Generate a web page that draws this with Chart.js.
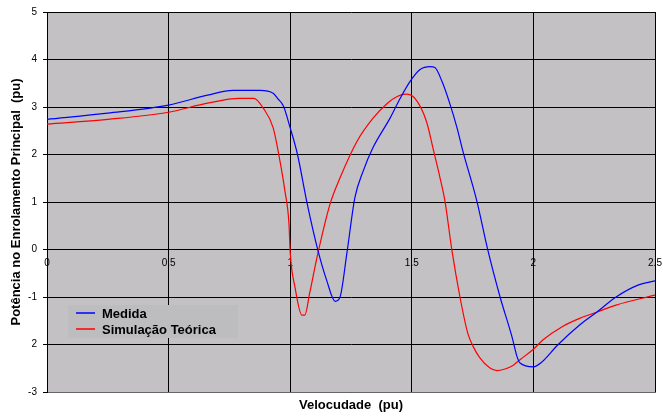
<!DOCTYPE html>
<html>
<head>
<meta charset="utf-8">
<script src="https://cdn.jsdelivr.net/npm/chart.js@4"></script>
<style>
  html, body { margin: 0; padding: 0; background: #fff; }
  #wrap { width: 663px; height: 417px; position: relative; }
</style>
</head>
<body>
<div id="wrap"><canvas id="c"></canvas></div>
<script>
// valores
var medidaX = [0, 0.25, 0.5, 0.66, 0.765, 0.876, 0.93, 0.948, 0.972, 1.0, 1.03, 1.07, 1.114, 1.15, 1.185, 1.205, 1.233, 1.266, 1.3, 1.34, 1.41, 1.452, 1.493, 1.534, 1.575, 1.595, 1.624, 1.657, 1.686, 1.71, 1.767, 1.813, 1.863, 1.912, 1.933, 1.945, 2.0, 2.03, 2.1, 2.19, 2.26, 2.34, 2.43, 2.5];
var medidaY = [2.74, 2.87, 3.04, 3.25, 3.35, 3.35, 3.29, 3.18, 3.02, 2.56, 2.0, 0.96, -0.02, -0.65, -1.09, -1.0, -0.08, 1.09, 1.65, 2.14, 2.76, 3.18, 3.54, 3.79, 3.85, 3.83, 3.54, 3.06, 2.56, 2.07, 1.03, -0.02, -1.0, -1.84, -2.26, -2.39, -2.47, -2.39, -2.01, -1.59, -1.32, -1.0, -0.75, -0.66];

var simX = [0, 0.25, 0.5, 0.66, 0.79, 0.85, 0.89, 0.93, 0.958, 0.978, 0.995, 1.0, 1.02, 1.048, 1.06, 1.08, 1.11, 1.164, 1.205, 1.275, 1.34, 1.4, 1.44, 1.475, 1.513, 1.56, 1.59, 1.616, 1.636, 1.665, 1.698, 1.73, 1.753, 1.78, 1.82, 1.85, 1.88, 1.916, 1.945, 2.0, 2.04, 2.12, 2.19, 2.26, 2.34, 2.5];
var simY = [2.64, 2.74, 2.89, 3.08, 3.18, 3.18, 2.97, 2.56, 1.86, 1.24, 0.54, -0.06, -0.8, -1.38, -1.38, -0.92, -0.17, 0.96, 1.51, 2.28, 2.76, 3.08, 3.22, 3.27, 3.18, 2.7, 2.07, 1.51, 1.03, -0.02, -1.0, -1.76, -2.05, -2.28, -2.49, -2.55, -2.52, -2.44, -2.32, -2.1, -1.9, -1.62, -1.45, -1.32, -1.17, -0.96];

var xTickValues = [0, 0.5, 1, 1.5, 2, 2.5];
var xTickLabels = ['0', '0.5', '1', '1.5', '2', '2.5'];
var yTickValues = [-3, -2, -1, 0, 1, 2, 3, 4, 5];
var yTickLabels = ['-3', '2', '-1', '0', '1', '2', '3', '4', '5'];

var seriesNames = ['Medida', 'Simulação Teórica'];
var seriesColors = ['#0000FF', '#FF0000'];

function pts(xs, ys) {
    return xs.map(function (x, i) { return {x: x, y: ys[i]}; });
}

var plotBg = {
    id: 'plotBg',
    beforeDraw: function (chart) {
        var a = chart.chartArea, ctx = chart.ctx;
        ctx.save();
        ctx.fillStyle = '#C3C1C4';
        ctx.fillRect(a.left, a.top, a.right - a.left, a.bottom - a.top);
        ctx.restore();
    }
};

var legendBox = {
    id: 'legendBox',
    afterDatasetsDraw: function (chart) {
        var ctx = chart.ctx;
        ctx.save();
        ctx.fillStyle = '#BDBCBE';
        ctx.fillRect(68, 305, 170, 33);
        ctx.font = 'bold 13px "Liberation Sans", Arial, sans-serif';
        ctx.textBaseline = 'middle';
        ctx.textAlign = 'left';
        seriesNames.forEach(function (name, i) {
            var y = 313 + i * 16;
            ctx.strokeStyle = seriesColors[i];
            ctx.lineWidth = 1.5;
            ctx.beginPath();
            ctx.moveTo(76, y);
            ctx.lineTo(95, y);
            ctx.stroke();
            ctx.fillStyle = '#000';
            ctx.fillText(name, 102, y + 1);
        });
        ctx.restore();
    }
};

function noSidePad(s) { s.paddingLeft = 0; s.paddingRight = 0; }

new Chart(document.getElementById('c'), {
    type: 'line',
    data: {
        datasets: [
            {label: seriesNames[0], data: pts(medidaX, medidaY), borderColor: seriesColors[0], borderWidth: 1.2, pointRadius: 0, cubicInterpolationMode: 'monotone', fill: false},
            {label: seriesNames[1], data: pts(simX, simY), borderColor: seriesColors[1], borderWidth: 1.2, pointRadius: 0, cubicInterpolationMode: 'monotone', fill: false}
        ]
    },
    options: {
        responsive: true,
        maintainAspectRatio: false,
        animation: false,
        events: [],
        layout: {padding: {top: 10, right: 8, left: 0, bottom: 0}},
        plugins: {legend: {display: false}, tooltip: {enabled: false}},
        scales: {
            x: {
                type: 'linear', min: 0, max: 2.5,
                afterBuildTicks: function (s) { s.ticks = xTickValues.map(function (v) { return {value: v}; }); },
                ticks: {display: false},
                grid: {color: '#000', lineWidth: 1, drawTicks: false},
                border: {display: true, color: '#666'},
                title: {display: true, text: 'Velocudade  (pu)', color: '#000', font: {family: '"Liberation Sans", Arial, sans-serif', size: 13, weight: 'bold'}, padding: {top: 0, bottom: 4}},
                afterFit: function (s) { s.height = 25; noSidePad(s); }
            },
            x2: {
                type: 'linear', min: 0, max: 2.5,
                position: {y: 0},
                afterBuildTicks: function (s) { s.ticks = xTickValues.map(function (v) { return {value: v}; }); },
                ticks: {
                    color: '#000', padding: 8, maxRotation: 0, autoSkip: false,
                    font: {family: '"Liberation Sans", Arial, sans-serif', size: 10},
                    callback: function (v) { return xTickLabels[xTickValues.indexOf(v)]; }
                },
                grid: {display: false, drawTicks: false},
                border: {display: false},
                afterFit: noSidePad
            },
            y: {
                min: -3, max: 5,
                afterBuildTicks: function (s) { s.ticks = yTickValues.map(function (v) { return {value: v}; }); },
                ticks: {
                    color: '#000', padding: 6,
                    font: {family: '"Liberation Sans", Arial, sans-serif', size: 10},
                    callback: function (v) { return yTickLabels[yTickValues.indexOf(v)]; }
                },
                grid: {color: '#000', lineWidth: 1, tickLength: 4, tickColor: '#000'},
                border: {display: true, color: '#000'},
                title: {display: true, text: 'Potência no Enrolamento Principal  (pu)', color: '#000', font: {family: '"Liberation Sans", Arial, sans-serif', size: 13, weight: 'bold'}, padding: {top: 9, bottom: 0}},
                afterFit: function (s) { s.width = 47; }
            }
        }
    },
    plugins: [plotBg, legendBox]
});
</script>
</body>
</html>
